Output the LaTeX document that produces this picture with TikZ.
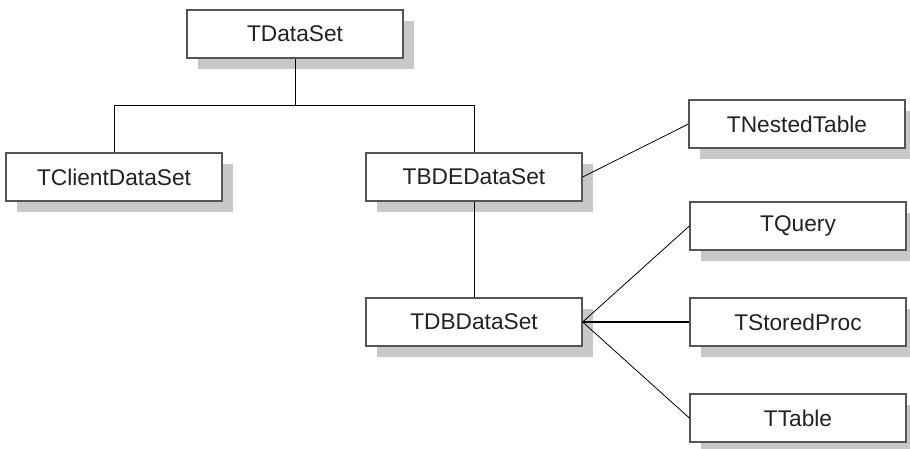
\documentclass[tikz,border=0pt]{standalone}
\usepackage{fontspec}
\setmainfont{Liberation Sans}
\usetikzlibrary{shadows}
\definecolor{boxline}{HTML}{555555}
\definecolor{shade}{HTML}{C8C8C8}
\definecolor{txt}{HTML}{222222}
\tikzset{
  classbox/.style={draw=boxline, line width=1.3pt, fill=white,
    minimum width=216pt, minimum height=48pt, inner sep=0pt,
    text=txt, font=\fontsize{22.7}{26}\selectfont,
    general shadow={fill=shade, shadow xshift=11pt, shadow yshift=-11pt}},
  link/.style={draw=black, line width=0.8pt},
  heavylink/.style={draw=black, line width=2pt}
}
\begin{document}
\begin{tikzpicture}[x=1pt, y=-1pt]
\useasboundingbox (0,0) rectangle (910,448);
\node[classbox] (ds)   at (295,34)  {TDataSet};
\node[classbox] (cds)  at (114,177) {TClientDataSet};
\node[classbox] (bde)  at (474,177) {TBDEDataSet};
\node[classbox] (nest) at (797,124) {TNestedTable};
\node[classbox] (qry)  at (798,226) {TQuery};
\node[classbox] (dbd)  at (474,322) {TDBDataSet};
\node[classbox] (sp)   at (798,322) {TStoredProc};
\node[classbox] (tbl)  at (798,418) {TTable};
\coordinate (bar) at (295,105.5);
\draw[link] (ds.south) -- (bar);
\draw[link] (cds.north) |- (bar) -| (bde.north);
\draw[link] (bde.east) -- (nest.west);
\draw[link] (bde.south) -- (dbd.north);
\draw[link] (dbd.east) -- (qry.west);
\draw[heavylink] (dbd.east) -- (sp.west);
\draw[link] (dbd.east) -- (tbl.west);
\end{tikzpicture}
\end{document}
